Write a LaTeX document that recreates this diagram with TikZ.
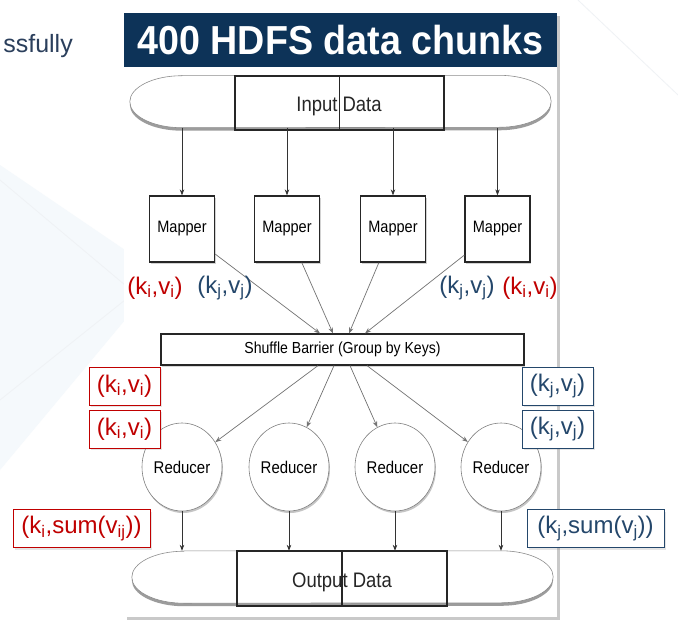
\documentclass[tikz,border=0pt]{standalone}
\usepackage{fontspec}
\setmainfont{Liberation Sans}
\newfontfamily\titlefont[FakeStretch=0.93]{Liberation Sans}
\newfontfamily\narrowfont[FakeStretch=0.88]{Liberation Sans}
\usetikzlibrary{shadows,arrows.meta,calc,shapes.geometric}

\definecolor{navy}{HTML}{0D3358}
\definecolor{keyred}{HTML}{C00000}
\definecolor{keyblue}{HTML}{24476B}
\definecolor{slidetext}{HTML}{2B3F5C}
\definecolor{haze}{HTML}{F5F9FC}
\definecolor{faintline}{HTML}{EFF2F5}

\tikzset{
  panelbox/.style={fill=white, draw=none, minimum width=433pt, minimum height=604pt,
    drop shadow={shadow xshift=3pt, shadow yshift=-3pt, opacity=0.35, fill=black!60}},
  titlebar/.style={fill=navy, minimum width=433pt, minimum height=54pt, inner sep=0pt,
    text=white, font=\titlefont\bfseries\fontsize{40.5}{41}\selectfont},
  pillbase/.style={minimum width=421pt, minimum height=52pt, inner sep=0pt},
  pill/.style={fill=white, draw=black!45, line width=0.6pt,
    drop shadow={shadow xshift=0pt, shadow yshift=-3pt, opacity=0.55, fill=black!70}},
  databox/.style={draw=black!85, line width=1.1pt, inner sep=0pt},
  datatext/.style={font=\narrowfont\fontsize{21}{22}\selectfont, text=black!85, inner sep=0pt},
  mapperbox/.style={draw=black!85, line width=1.3pt, fill=white, minimum width=65pt,
    minimum height=66pt, inner sep=0pt, font=\narrowfont\fontsize{16.5}{17}\selectfont,
    drop shadow={shadow xshift=1pt, shadow yshift=-1.5pt, opacity=0.35}},
  barrierbox/.style={draw=black!85, line width=1.2pt, fill=white, minimum width=363pt,
    minimum height=31pt, inner sep=0pt, font=\narrowfont\fontsize{16}{17}\selectfont,
    drop shadow={shadow xshift=1pt, shadow yshift=-1.5pt, opacity=0.3}},
  reducer/.style={ellipse, draw=black!50, line width=0.6pt, fill=white, minimum width=80pt,
    minimum height=88pt, inner sep=0pt, font=\narrowfont\fontsize{17}{18}\selectfont,
    drop shadow={shadow xshift=1pt, shadow yshift=-2pt, opacity=0.45}},
  arr/.style={draw=black!80, line width=0.7pt, -{Stealth[length=6pt,width=4.5pt]}},
  garr/.style={draw=black!55, line width=0.7pt, -{Stealth[length=6pt,width=4.5pt]}},
  kv/.style={font=\fontsize{24}{25}\selectfont, inner sep=0pt},
  redkv/.style={kv, text=keyred},
  bluekv/.style={kv, text=keyblue},
  redtag/.style={redkv, draw=keyred, line width=0.8pt, fill=white, minimum height=38pt,
    drop shadow={shadow xshift=1.5pt, shadow yshift=-2pt, opacity=0.2}},
  bluetag/.style={bluekv, draw=keyblue, line width=0.8pt, fill=white, minimum height=38pt,
    drop shadow={shadow xshift=1.5pt, shadow yshift=-2pt, opacity=0.2}},
}

\newcommand{\kvsub}[3]{(k\textsubscript{#1},#2\textsubscript{#3})}

\begin{document}
\begin{tikzpicture}[x=1pt, y=-1pt]
\useasboundingbox (0,0) rectangle (678,641);
\fill[white] (0,0) rectangle (678,641);

% slide background: soft tint and faint diagonal strokes
\fill[haze] (0,165) -- (125,250) -- (125,320) -- (0,470) -- cycle;
\draw[faintline, line width=0.8pt] (0,180) -- (125,285);
\draw[faintline, line width=0.8pt] (0,400) -- (125,300);
\draw[faintline, line width=0.8pt] (578,0) -- (678,95);

% cut-off slide text on the left
\node[anchor=east, text=slidetext, font=\fontsize{25}{26}\selectfont, inner sep=0pt] (slide) at (73,46) {ssfully};

% white panel with its title bar
\node[panelbox] (panel) at (340.5,315) {};
\node[titlebar] (title) at (340.5,40) {400 HDFS data chunks};

% input data pill
\node[pillbase] (inp) at (340.5,101.5) {};
\path[pill] ($(inp.north west)+(52,0)$) -- ($(inp.north east)+(-52,0)$)
  arc[start angle=-90, end angle=90, x radius=52, y radius=26]
  -- ($(inp.south west)+(52,0)$)
  arc[start angle=90, end angle=270, x radius=52, y radius=26] -- cycle;
\node[databox, minimum width=209pt, minimum height=54pt] (inbox) at (339.5,103) {};
\draw[black!85, line width=1.1pt] (inbox.north) -- (inbox.south);
\node[datatext] (intext) at (339,106) {Input Data};

% mappers
\node[mapperbox] (m1) at (182,229) {Mapper};
\node[mapperbox] (m2) at (287,229) {Mapper};
\node[mapperbox] (m3) at (393,229) {Mapper};
\node[mapperbox] (m4) at (497.5,229) {Mapper};
\foreach \m in {m1,m2,m3,m4}
  \draw[arr] (\m.north |- inp.south) -- (\m.north);

% shuffle barrier
\node[barrierbox] (bar) at (342.5,349.5) {Shuffle Barrier (Group by Keys)};
\draw[garr] (m1) -- ($(bar.north)+(-22.5,0)$);
\draw[garr] (m2) -- ($(bar.north)+(-9.5,0)$);
\draw[garr] (m3) -- ($(bar.north)+(6.5,0)$);
\draw[garr] (m4) -- ($(bar.north)+(22.5,0)$);

% mapper output pairs
\node[redkv] (mo1) at (155,288) {\kvsub{i}{v}{i}};
\node[bluekv] (mo2) at (225,288) {\kvsub{j}{v}{j}};
\node[bluekv] (mo3) at (467,288) {\kvsub{j}{v}{j}};
\node[redkv] (mo4) at (530,288) {\kvsub{i}{v}{i}};

% reducers
\node[reducer] (r1) at (182,467) {Reducer};
\node[reducer] (r2) at (289,467) {Reducer};
\node[reducer] (r3) at (395,467) {Reducer};
\node[reducer] (r4) at (501,467) {Reducer};
\draw[garr] ($(bar.south)+(-24.5,0)$) -- (r1);
\draw[garr] ($(bar.south)+(-8.5,0)$) -- (r2);
\draw[garr] ($(bar.south)+(7.5,0)$) -- (r3);
\draw[garr] ($(bar.south)+(24.5,0)$) -- (r4);

% grouped pairs entering the reducers
\node[redtag, minimum width=71pt] (ri1) at (124.5,386) {\kvsub{i}{v}{i}};
\node[redtag, minimum width=71pt] (ri2) at (124.5,429) {\kvsub{i}{v}{i}};
\node[bluetag, minimum width=71pt] (bj1) at (557.5,386) {\kvsub{j}{v}{j}};
\node[bluetag, minimum width=71pt] (bj2) at (557.5,429) {\kvsub{j}{v}{j}};

% output data pill
\node[pillbase] (outp) at (342.5,577) {};
\path[pill] ($(outp.north west)+(52,0)$) -- ($(outp.north east)+(-52,0)$)
  arc[start angle=-90, end angle=90, x radius=52, y radius=26]
  -- ($(outp.south west)+(52,0)$)
  arc[start angle=90, end angle=270, x radius=52, y radius=26] -- cycle;
\node[databox, minimum width=210pt, minimum height=55pt] (outbox) at (342,578.5) {};
\draw[black!85, line width=1.1pt] (outbox.north) -- (outbox.south);
\node[datatext] (outtext) at (342,582) {Output Data};

\foreach \r in {r1,r2,r3,r4}
  \draw[arr] (\r.south) -- (\r.south |- outp.north);

% reduced results
\node[redtag, minimum width=137pt] (rs) at (81.5,528.5) {(k\textsubscript{i},sum(v\textsubscript{ij}))};
\node[bluetag, minimum width=137pt] (bs) at (595.5,528.5) {(k\textsubscript{j},sum(v\textsubscript{j}))};
\end{tikzpicture}
\end{document}
